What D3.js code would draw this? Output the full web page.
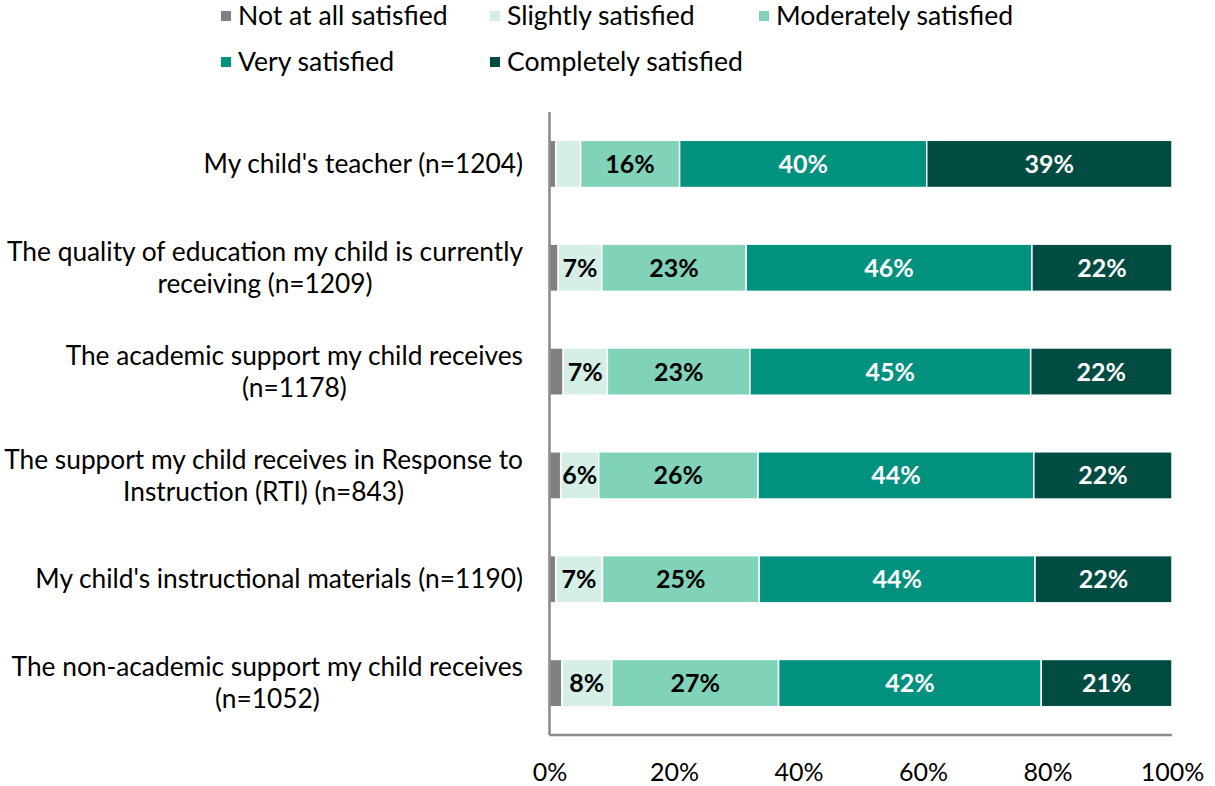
<!DOCTYPE html>
<html><head><meta charset="utf-8">
<script src="https://cdn.jsdelivr.net/npm/d3@7"></script>
<style>body{margin:0;background:#fff;} text{font-family:Lato, "Open Sans", sans-serif;}</style>
</head><body>
<svg id="chart" width="1215" height="786"></svg>
<script>
const categories = [
  ["My child's teacher (n=1204)"],
  ["The quality of education my child is currently", "receiving (n=1209)"],
  ["The academic support my child receives", "(n=1178)"],
  ["The support my child receives in Response to", "Instruction (RTI) (n=843)"],
  ["My child's instructional materials (n=1190)"],
  ["The non-academic support my child receives", "(n=1052)"]
];
const seriesNames = ["Not at all satisfied","Slightly satisfied","Moderately satisfied","Very satisfied","Completely satisfied"];
const notAtAll   = [1.0, 1.4, 2.2, 1.8, 1.0, 2.0];
const slightly   = [4.0, 7.0, 7.1, 6.1, 7.5, 8.0];
const moderately = [15.9, 23.2, 22.9, 25.6, 25.2, 26.8];
const very       = [39.7, 45.9, 45.1, 44.3, 44.3, 42.2];
const completely = [39.4, 22.5, 22.7, 22.2, 22.0, 21.0];
const labelTexts = [
  [null, null, "16%", "40%", "39%"],
  [null, "7%", "23%", "46%", "22%"],
  [null, "7%", "23%", "45%", "22%"],
  [null, "6%", "26%", "44%", "22%"],
  [null, "7%", "25%", "44%", "22%"],
  [null, "8%", "27%", "42%", "21%"]
];
const tickValues = [0, 20, 40, 60, 80, 100];
const colors = ["#808080", "#d5efe6", "#80d2b8", "#00917f", "#004c42"];
const labelColors = ["#000", "#000", "#000", "#fff", "#fff"];

const series = [notAtAll, slightly, moderately, very, completely];
const rows = categories.map((c, i) => {
  const r = {idx: i};
  seriesNames.forEach((s, k) => r[s] = series[k][i]);
  return r;
});

const svg = d3.select("#chart");
const pLeft = 549.5, pRight = 1172, pTop = 112, pBottom = 735;
const x = d3.scaleLinear().domain([0, 100]).range([pLeft, pRight]);
const y = d3.scaleBand().domain(d3.range(categories.length)).range([pTop, pBottom]).paddingInner(0.545).paddingOuter(0.2725);

const stack = d3.stack().keys(seriesNames)(rows);

const g = svg.append("g");
stack.forEach((layer, k) => {
  const lg = g.append("g");
  lg.selectAll("rect").data(layer).join("rect")
    .attr("x", d => x(d[0]))
    .attr("y", d => y(d.data.idx))
    .attr("width", d => x(d[1]) - x(d[0]))
    .attr("height", y.bandwidth())
    .attr("fill", colors[k])
    .attr("stroke", "#fff").attr("stroke-width", 1.5);
  lg.selectAll("text").data(layer.filter(d => labelTexts[d.data.idx][k])).join("text")
    .attr("x", d => (x(d[0]) + x(d[1])) / 2)
    .attr("y", d => y(d.data.idx) + y.bandwidth() / 2)
    .attr("dy", "0.36em")
    .attr("text-anchor", "middle")
    .attr("font-size", 25).attr("font-weight", "bold")
    .attr("fill", labelColors[k])
    .text(d => labelTexts[d.data.idx][k]);
});

// axes lines
svg.append("line").attr("x1", pLeft).attr("x2", pLeft).attr("y1", pTop).attr("y2", pBottom)
  .attr("stroke", "#898989").attr("stroke-width", 2.5);
svg.append("line").attr("x1", pLeft).attr("x2", pRight).attr("y1", pBottom).attr("y2", pBottom)
  .attr("stroke", "#898989").attr("stroke-width", 2.5);

// x tick labels
const xAxis = d3.axisBottom(x).tickValues(tickValues).tickFormat(d => d + "%").tickSize(0).tickPadding(0);
const ax = svg.append("g").attr("transform", `translate(0,${pBottom})`).call(xAxis);
ax.select(".domain").remove();
ax.selectAll("text").attr("font-size", 25).attr("fill", "#000").attr("dy", null).attr("y", 46)
  .attr("font-family", "Lato, sans-serif");

// category labels
const catG = svg.append("g");
categories.forEach((lines, i) => {
  const t = catG.append("text").attr("font-size", 26.3).attr("fill", "#000").attr("text-anchor", "middle");
  const cy = y(i) + y.bandwidth() / 2;
  const lh = 32;
  lines.forEach((ln, j) => {
    t.append("tspan").attr("y", cy + (j - (lines.length - 1) / 2) * lh).attr("dy", "0.35em").text(ln);
  });
  let maxW = 0;
  t.selectAll("tspan").each(function(){ maxW = Math.max(maxW, this.getComputedTextLength()); });
  t.selectAll("tspan").attr("x", 523 - maxW / 2);
});

// legend
const legend = svg.append("g");
seriesNames.forEach((s, k) => {
  const col = k % 3, row = Math.floor(k / 3);
  const lx = 221 + col * 269, ly = 16 + row * 46;
  legend.append("rect").attr("x", lx).attr("y", ly - 5).attr("width", 10).attr("height", 10).attr("fill", colors[k]);
  legend.append("text").attr("x", lx + 17).attr("y", ly).attr("dy", "0.35em").attr("font-size", 26.6).attr("fill", "#000").text(s);
});
</script>
</body></html>
